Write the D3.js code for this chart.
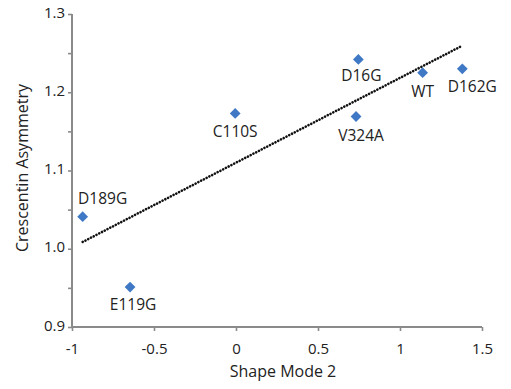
<!DOCTYPE html>
<html>
<head>
<meta charset="utf-8">
<script src="https://cdn.jsdelivr.net/npm/d3@7"></script>
<style>
  html, body { margin: 0; padding: 0; background: #fff; }
  svg { display: block; }
  text { font-family: "Open Sans", "Noto Sans", sans-serif; fill: #222; }
</style>
</head>
<body>
<svg id="chart" width="511" height="389"></svg>
<script>
// ---- data ----
const names  = ["D189G", "E119G", "C110S", "D16G", "V324A", "WT", "D162G"];
const shape  = [-0.935, -0.646, -0.005, 0.746, 0.732, 1.138, 1.380];
const asym   = [1.041, 0.951, 1.173, 1.242, 1.169, 1.225, 1.230];
const xTicks = [-1, -0.5, 0, 0.5, 1, 1.5];
const xTickLabels = ["-1", "-0.5", "0", "0.5", "1", "1.5"];
const yTicks = [0.9, 1.0, 1.1, 1.2, 1.3];
const yTickLabels = ["0.9", "1.0", "1.1", "1.2", "1.3"];
const yMinorTicks = [0.95, 1.05, 1.15, 1.25];
const xTitle = "Shape Mode 2";
const yTitle = "Crescentin Asymmetry";

const points = names.map((n, i) => ({ name: n, x: shape[i], y: asym[i] }));

// ---- layout ----
const svg = d3.select("#chart");
const x = d3.scaleLinear().domain([-1, 1.5]).range([72, 482]);
const y = d3.scaleLinear().domain([0.9, 1.3]).range([327, 14]);
const axisColor = "#8a8a8a";

// label placement (style)
const labelOffset = {
  "D189G": [20, -13], "E119G": [3, 23], "C110S": [0, 24], "D16G": [3, 22],
  "V324A": [5, 24], "WT": [0, 24], "D162G": [10, 23]
};

// y axis
const yAxis = d3.axisLeft(y).tickValues(yTicks).tickFormat((d, i) => yTickLabels[i]).tickSize(4).tickPadding(3);
const gy = svg.append("g").attr("transform", `translate(${x.range()[0]},0)`).call(yAxis);
const gyMinor = svg.append("g").attr("transform", `translate(${x.range()[0]},0)`)
  .call(d3.axisLeft(y).tickValues(yMinorTicks).tickFormat("").tickSize(4));

// x axis
const xAxis = d3.axisBottom(x).tickValues(xTicks).tickFormat((d, i) => xTickLabels[i]).tickSize(4).tickPadding(12);
const gx = svg.append("g").attr("transform", `translate(0,${y.range()[0]})`).call(xAxis);

[gy, gyMinor, gx].forEach(g => {
  g.select(".domain").remove();
  g.selectAll(".tick line").attr("stroke", axisColor).attr("stroke-width", 1.6);
  g.selectAll(".tick text").style("font-size", "15px").attr("fill", "#222");
});
gy.selectAll(".tick text").attr("dy", "0.2em");
svg.append("line").attr("x1", x.range()[0]).attr("x2", x.range()[0])
  .attr("y1", y.range()[1]).attr("y2", y.range()[0] + 1)
  .attr("stroke", axisColor).attr("stroke-width", 2);
svg.append("line").attr("x1", x.range()[0] - 1).attr("x2", x.range()[1])
  .attr("y1", y.range()[0]).attr("y2", y.range()[0])
  .attr("stroke", axisColor).attr("stroke-width", 2);

// axis titles
svg.append("text").attr("x", 283).attr("y", 377).attr("text-anchor", "middle")
  .style("font-size", "16px").text(xTitle);
svg.append("text").attr("transform", `translate(28,168) rotate(-90)`).attr("text-anchor", "middle")
  .style("font-size", "16px").text(yTitle);

// trend line (least squares)
const mx = d3.mean(points, d => d.x), my = d3.mean(points, d => d.y);
const slope = d3.sum(points, d => (d.x - mx) * (d.y - my)) / d3.sum(points, d => (d.x - mx) ** 2);
const icpt = my - slope * mx;
const [x0, x1] = d3.extent(points, d => d.x);
const xs = [x0, x1 - 0.012];
svg.append("path")
  .attr("d", d3.line().x(d => x(d)).y(d => y(icpt + slope * d))(xs))
  .attr("stroke", "#111").attr("stroke-width", 2.6).attr("fill", "none")
  .attr("stroke-linecap", "round").attr("stroke-dasharray", "0.1,3");

// markers
const diamond = d3.symbol().type(d3.symbolSquare).size(58);
svg.append("g").selectAll("path").data(points).join("path")
  .attr("d", diamond)
  .attr("transform", d => `translate(${x(d.x)},${y(d.y)}) rotate(45)`)
  .attr("fill", "#3f78c4");

// labels
svg.append("g").selectAll("text").data(points).join("text")
  .attr("x", d => x(d.x) + labelOffset[d.name][0])
  .attr("y", d => y(d.y) + labelOffset[d.name][1])
  .attr("text-anchor", "middle")
  .style("font-size", "15.5px")
  .text(d => d.name);
</script>
</body>
</html>
